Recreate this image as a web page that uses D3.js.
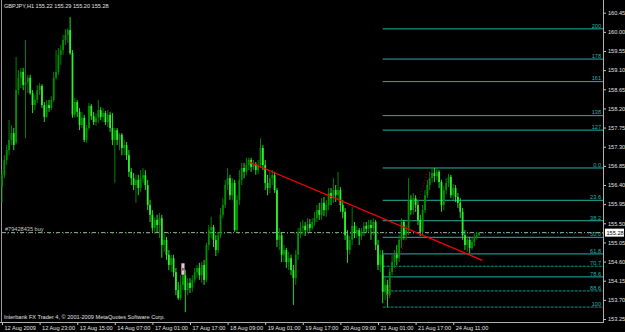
<!DOCTYPE html>
<html><head><meta charset="utf-8">
<script src="https://cdn.jsdelivr.net/npm/d3@7"></script>
<style>html,body{margin:0;padding:0;background:#000;}svg{display:block;}text{font-family:"Liberation Sans",Arial,sans-serif;}</style>
</head><body><svg id="c" width="625" height="332"></svg>
<script>
const open=[156.35,156.63,156.99,157.22,157.46,157.62,157.40,158.63,158.92,159.06,
158.75,158.82,158.92,158.56,158.28,158.40,158.63,158.73,158.28,158.00,
158.28,158.21,158.40,158.92,159.06,159.46,159.57,159.81,159.93,160.04,
159.50,158.05,158.35,158.12,157.81,157.98,157.46,157.74,158.26,158.02,
157.88,157.98,158.16,158.00,158.09,157.88,158.05,157.74,157.46,157.69,
157.46,157.58,157.27,157.34,157.10,156.71,156.56,156.40,156.52,156.33,
156.56,156.63,156.40,155.93,155.70,155.39,155.58,155.46,155.62,154.99,
155.11,154.76,154.52,154.68,154.35,153.93,153.74,154.05,154.28,153.93,
154.10,153.98,154.17,154.35,154.45,154.28,154.52,154.17,154.99,155.34,
155.41,155.11,154.87,155.22,155.70,155.93,156.40,156.56,156.16,156.45,
155.34,156.05,156.52,156.80,156.71,156.87,156.99,156.82,156.89,156.75,
156.87,157.27,156.87,156.45,156.33,156.56,156.63,156.28,155.11,155.22,
154.76,154.87,154.59,154.68,154.40,154.21,154.76,155.30,155.39,155.44,
155.34,155.48,155.39,155.53,155.62,155.81,155.70,155.98,155.81,155.93,
156.21,156.09,156.28,156.16,156.28,155.93,155.77,155.22,154.87,155.11,
155.44,155.27,155.34,155.20,155.30,155.44,155.37,155.46,155.39,155.53,
154.99,154.52,154.76,153.89,154.05,153.81,154.35,154.59,154.76,154.68,
155.11,155.53,155.22,155.34,156.05,155.81,156.09,155.93,155.58,155.30,
155.81,156.16,156.40,156.56,156.68,156.61,156.71,156.47,155.93,156.28,
156.45,156.59,156.16,156.33,156.12,155.98,155.77,155.22,154.99,155.11,
154.92,155.06,155.18,155.22];
const high=[156.75,157.10,157.34,157.93,157.81,157.74,159.41,159.10,159.15,159.15,
159.81,158.99,158.99,158.63,158.52,158.75,158.80,158.77,158.35,158.40,
158.40,158.49,159.06,159.57,159.62,159.69,159.93,160.07,160.09,160.35,
159.57,158.45,158.40,158.21,158.12,158.05,157.81,158.33,158.30,158.12,
158.09,158.40,158.23,158.21,158.14,158.16,158.12,158.09,157.74,157.74,
157.62,157.62,157.46,157.41,157.22,156.80,156.68,156.64,156.64,156.75,
156.80,156.75,156.52,156.05,155.81,155.65,155.70,155.74,155.70,155.27,
155.18,154.87,154.76,154.76,154.45,154.12,154.28,154.52,154.40,154.21,
154.21,154.28,154.45,154.52,154.57,154.59,154.64,155.04,155.46,155.65,
155.46,155.22,155.30,155.86,156.09,156.52,156.80,156.64,156.56,156.52,
156.16,156.75,156.92,156.92,157.04,157.04,157.04,156.99,156.94,156.99,
157.50,157.34,156.99,156.64,156.71,156.75,156.71,156.33,155.39,155.30,
154.99,154.92,154.83,154.76,154.52,154.87,155.39,155.53,155.58,155.53,
155.62,155.60,155.62,155.77,155.93,155.98,156.09,156.12,156.05,156.33,
156.33,156.56,156.40,156.71,156.35,156.05,155.86,155.34,155.20,155.88,
155.53,155.44,155.39,155.39,155.53,155.53,155.58,155.58,155.62,155.58,
155.11,154.87,154.87,154.21,154.17,154.45,154.76,154.87,154.99,155.22,
155.62,155.58,155.46,156.56,156.16,156.21,156.16,156.05,155.70,155.93,
156.28,156.52,156.71,156.80,156.80,156.80,156.75,156.52,156.38,156.56,
156.66,156.64,156.42,156.40,156.21,156.09,155.86,155.34,155.20,155.18,
155.15,155.27,155.30,155.29];
const low=[155.98,156.56,156.87,157.10,157.34,157.22,157.35,158.52,158.68,158.63,
157.50,158.56,158.52,158.09,158.16,158.33,158.52,158.21,157.88,157.98,
158.12,158.16,158.35,158.87,158.99,159.22,159.46,159.69,159.74,159.46,
157.98,157.98,158.00,157.69,157.74,157.41,157.39,157.69,157.93,157.81,
157.79,157.86,157.93,157.88,157.81,157.76,157.65,157.34,156.45,157.34,
157.22,157.10,157.10,156.99,156.59,156.40,156.28,155.98,156.16,156.24,
156.45,156.28,155.81,155.53,155.30,155.30,155.27,155.15,154.69,154.83,
154.64,154.40,154.35,154.24,153.81,153.70,153.70,153.93,153.41,153.81,
153.86,153.89,154.10,154.21,154.17,154.10,154.05,154.12,154.87,155.15,
154.94,154.73,154.80,155.15,155.62,155.86,156.28,156.05,156.05,155.30,
155.30,155.93,156.40,156.56,156.64,156.75,156.71,156.75,156.64,156.66,
156.80,156.75,156.28,156.16,156.21,156.40,156.21,154.94,154.87,154.59,
154.59,154.45,154.40,154.28,153.58,154.05,154.64,155.15,155.22,155.20,
155.27,155.30,155.34,155.44,155.53,155.58,155.58,155.67,155.65,155.81,
155.93,155.98,156.00,156.05,155.77,155.62,155.11,154.57,154.76,154.99,
155.15,155.15,154.99,155.11,155.20,155.27,155.30,155.11,155.22,154.87,
154.40,154.35,153.62,153.70,153.53,153.74,154.28,154.45,154.52,154.59,
154.92,155.11,155.11,155.22,155.70,155.72,155.77,155.46,155.20,155.22,
155.74,156.09,156.28,156.45,156.47,156.52,156.33,155.77,155.81,156.19,
156.35,156.09,156.05,156.00,155.86,155.62,155.11,154.87,154.83,154.80,
154.87,154.97,155.11,155.20];
const close=[156.63,156.99,157.22,157.46,157.62,157.34,158.63,158.92,159.06,158.75,
158.82,158.92,158.56,158.28,158.40,158.63,158.73,158.28,158.00,158.28,
158.21,158.40,158.92,159.06,159.46,159.57,159.81,159.93,160.04,159.50,
158.05,158.35,158.12,157.81,157.98,157.46,157.74,158.26,158.02,157.88,
157.98,158.16,158.00,158.09,157.88,158.05,157.74,157.46,157.69,157.46,
157.58,157.27,157.34,157.10,156.71,156.56,156.40,156.52,156.33,156.56,
156.63,156.40,155.93,155.70,155.39,155.58,155.46,155.62,154.99,155.11,
154.76,154.52,154.68,154.35,153.93,153.74,154.05,154.28,153.93,154.10,
153.98,154.17,154.35,154.45,154.28,154.52,154.17,154.99,155.34,155.41,
155.11,154.87,155.22,155.70,155.93,156.40,156.56,156.16,156.45,155.34,
156.05,156.52,156.80,156.71,156.87,156.99,156.82,156.89,156.75,156.87,
157.27,156.87,156.45,156.33,156.56,156.63,156.28,155.11,155.22,154.76,
154.87,154.59,154.68,154.40,154.21,154.76,155.30,155.39,155.44,155.34,
155.48,155.39,155.53,155.62,155.81,155.70,155.98,155.81,155.93,156.21,
156.09,156.28,156.16,156.28,155.93,155.77,155.22,154.87,155.11,155.44,
155.27,155.34,155.20,155.30,155.44,155.37,155.46,155.39,155.53,154.99,
154.52,154.76,153.89,154.05,153.81,154.35,154.59,154.76,154.68,155.11,
155.53,155.22,155.34,156.05,155.81,156.09,155.93,155.58,155.30,155.81,
156.16,156.40,156.56,156.68,156.61,156.71,156.47,155.93,156.28,156.45,
156.59,156.16,156.33,156.12,155.98,155.77,155.22,154.99,155.11,154.92,
155.06,155.18,155.22,155.28];

const priceTicks=[160.45,160.00,159.55,159.10,158.65,158.20,157.75,157.30,156.85,156.40,155.95,155.50,155.05,154.60,154.15,153.70,153.25];
const timeTickBars=[0,16,32,48,64,80,96,112,128,144,160,176,192];
const timeTickLabels=["12 Aug 2009","12 Aug 23:00","13 Aug 15:00","14 Aug 07:00","17 Aug 01:00","17 Aug 17:00","18 Aug 09:00","19 Aug 01:00","19 Aug 17:00","20 Aug 09:00","21 Aug 01:00","21 Aug 17:00","24 Aug 11:00"];
const fibLabels=["0.0","23.6","38.2","50.0","61.8","70.7","78.6","88.6","100","127","138","161","178","200"];
const fibPrices=[156.80,156.04,155.56,155.17,154.78,154.49,154.24,153.91,153.53,157.69,158.03,158.83,159.36,160.07];
const fibDotted=[false,false,false,false,false,true,false,true,true,false,false,false,false,false];
const fibStartBar=162;
const trendLine=[{bar:105.5,price:156.93},{bar:204.4,price:154.63}];
const fibBase=[{bar:162.7,price:153.62},{bar:181.4,price:156.75}];
const bidPrice=155.28, orderPrice=155.27, orderLabel="#79428435 buy";
const marker={bar:77,top:154.56,bottom:154.29};
const title="GBPJPY,H1  155.22 155.29 155.20 155.28";
const copyright="Interbank FX Trader 4, \u00a9 2001-2009 MetaQuotes Software Corp.";

const svg=d3.select("#c");
const W=625,H=332;
const axisX=603, axisY=322;
const x=d3.scaleLinear().domain([0,203]).range([2,2+203*2.35]);
const y=d3.scaleLinear().domain([153.25,160.45]).range([319,12.7]);
const FS=5.6;
const UP="#009000", DN="#2cf02c";

// frame
svg.append("rect").attr("width",W).attr("height",H).attr("fill","#000");
svg.append("line").attr("x1",1.5).attr("x2",1.5).attr("y1",0).attr("y2",axisY).attr("stroke","#9a9a9a").attr("stroke-width",1);

// fib lines
const fg=svg.append("g");
fibPrices.forEach((p,i)=>{
  fg.append("line").attr("x1",x(fibStartBar)).attr("x2",axisX).attr("y1",y(p)).attr("y2",y(p))
    .attr("stroke",fibDotted[i]?"#1a8f8a":"#20b2aa").attr("stroke-width",1)
    .attr("stroke-dasharray",fibDotted[i]?"3,1":null);
  fg.append("text").attr("x",axisX-2).attr("y",y(p)-1.2).attr("text-anchor","end")
    .attr("font-size",FS).attr("fill","#20b2aa").text(fibLabels[i]);
});

// bid / order line
svg.append("line").attr("x1",2).attr("x2",axisX).attr("y1",y(bidPrice)).attr("y2",y(bidPrice))
  .attr("stroke","#a8a8a8").attr("stroke-width",1).attr("stroke-dasharray","4,2,1,2");
svg.append("line").attr("x1",2).attr("x2",axisX).attr("y1",y(orderPrice)).attr("y2",y(orderPrice))
  .attr("stroke","#00c000").attr("stroke-width",1).attr("stroke-dasharray","1,6").attr("stroke-dashoffset",-5);
svg.append("text").attr("x",5).attr("y",y(orderPrice)-2).attr("font-size",FS).attr("fill","#c8c8c8").text(orderLabel);

// candles
const bars=d3.range(open.length);
const cg=svg.append("g");
cg.selectAll("line.w").data(bars).join("line")
  .attr("x1",i=>x(i)).attr("x2",i=>x(i)).attr("y1",i=>y(high[i])).attr("y2",i=>y(low[i]))
  .attr("stroke",i=>close[i]>=open[i]?UP:DN).attr("stroke-width",0.9);
cg.selectAll("rect.b").data(bars).join("rect")
  .attr("x",i=>x(i)-0.9).attr("width",1.8)
  .attr("y",i=>y(Math.max(open[i],close[i])))
  .attr("height",i=>Math.max(0.8,Math.abs(y(open[i])-y(close[i]))))
  .attr("fill",i=>close[i]>=open[i]?UP:DN);

// marker
svg.append("rect").attr("x",x(marker.bar)-1.6).attr("width",3.2).attr("y",y(marker.top)).attr("height",y(marker.bottom)-y(marker.top)).attr("fill","#e8c4cc");
svg.append("rect").attr("x",x(marker.bar)-0.6).attr("width",1.2).attr("y",(y(marker.top)+y(marker.bottom))/2-1).attr("height",2.5).attr("fill","#502030");

// trend lines
svg.append("line").attr("x1",x(trendLine[0].bar)).attr("y1",y(trendLine[0].price)).attr("x2",x(trendLine[1].bar)).attr("y2",y(trendLine[1].price))
  .attr("stroke","#ff0000").attr("stroke-width",1.3);
svg.append("line").attr("x1",x(fibBase[0].bar)).attr("y1",y(fibBase[0].price)).attr("x2",x(fibBase[1].bar)).attr("y2",y(fibBase[1].price))
  .attr("stroke","#b00000").attr("stroke-width",1).attr("stroke-dasharray","1,2");

// right axis
const ra=svg.append("g").attr("transform",`translate(${axisX},0)`)
  .call(d3.axisRight(y).tickValues(priceTicks).tickSize(3).tickPadding(2).tickFormat(d3.format(".2f")));
ra.select(".domain").remove();
ra.selectAll("line").attr("stroke","#c8c8c8");
ra.selectAll("text").attr("fill","#e0e0e0").attr("font-size",FS).attr("font-family","Liberation Sans,Arial,sans-serif");
svg.append("line").attr("x1",axisX+0.5).attr("x2",axisX+0.5).attr("y1",0).attr("y2",axisY).attr("stroke","#b0b0b0");

// bid price box
svg.append("rect").attr("x",axisX+2).attr("y",y(bidPrice)-4).attr("width",19).attr("height",8).attr("fill","#ffffff");
svg.append("text").attr("x",axisX+3.5).attr("y",y(bidPrice)+2).attr("font-size",FS).attr("fill","#000").text(d3.format(".2f")(bidPrice));

// bottom axis
const ba=svg.append("g").attr("transform",`translate(0,${axisY})`)
  .call(d3.axisBottom(x).tickValues(timeTickBars).tickSize(3).tickPadding(1).tickFormat((d,i)=>timeTickLabels[i]));
ba.select(".domain").remove();
ba.selectAll("line").attr("stroke","#c8c8c8");
ba.selectAll("text").attr("fill","#e0e0e0").attr("font-size",FS).attr("text-anchor","start").attr("dx",2).attr("font-family","Liberation Sans,Arial,sans-serif");
svg.append("line").attr("x1",0).attr("x2",axisX+1).attr("y1",axisY+0.5).attr("y2",axisY+0.5).attr("stroke","#b0b0b0");

// texts
svg.append("text").attr("x",4).attr("y",8).attr("font-size",FS).attr("fill","#e0e0e0").text(title);
svg.append("text").attr("x",4).attr("y",318.5).attr("font-size",FS).attr("fill","#e0e0e0").text(copyright);
</script></body></html>
